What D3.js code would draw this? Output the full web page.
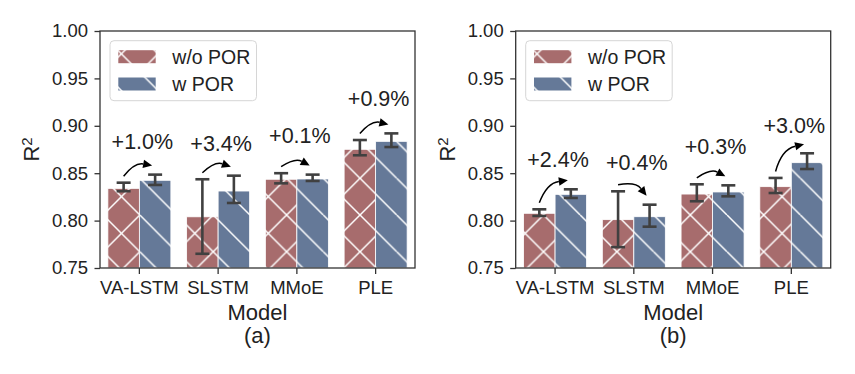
<!DOCTYPE html>
<html>
<head>
<meta charset="utf-8">
<script src="https://cdn.jsdelivr.net/npm/d3@7"></script>
<style>
  body { margin: 0; background: #fff; }
  text { font-family: "Liberation Sans", Arial, sans-serif; fill: #222; }
</style>
</head>
<body>
<svg id="chart" width="855" height="374"></svg>
<script>
// categories
const models = ["VA-LSTM", "SLSTM", "MMoE", "PLE"];
const yTicks = [0.75, 0.80, 0.85, 0.90, 0.95, 1.00];

// panel (a)
const aWoMean = [0.834, 0.804, 0.8436, 0.8752];
const aWoLow  = [0.831, 0.765, 0.8393, 0.8689];
const aWoHigh = [0.840, 0.8436, 0.850, 0.885];
const aWMean  = [0.8425, 0.8312, 0.8439, 0.8836];
const aWLow   = [0.8376, 0.8186, 0.8418, 0.8776];
const aWHigh  = [0.8485, 0.8474, 0.8485, 0.892];
const aGain   = ["+1.0%", "+3.4%", "+0.1%", "+0.9%"];
const aGainY  = [0.8752, 0.8737, 0.8815, 0.9209];

// panel (b)
const bWoMean = [0.8077, 0.801, 0.828, 0.8358];
const bWoLow  = [0.8049, 0.772, 0.8204, 0.8291];
const bWoHigh = [0.8119, 0.8309, 0.8383, 0.845];
const bWMean  = [0.8277, 0.8041, 0.8302, 0.8611];
const bWLow   = [0.8239, 0.7936, 0.8256, 0.8544];
const bWHigh  = [0.833, 0.8168, 0.8372, 0.871];
const bGain   = ["+2.4%", "+0.4%", "+0.3%", "+3.0%"];
const bGainY  = [0.8569, 0.8534, 0.8703, 0.8921];

const legendNames = ["w/o POR", "w POR"];
const red = "#a76c6d", blue = "#657998", ink = "#404040";

const svg = d3.select("#chart");
const defs = svg.append("defs");

// hatch patterns, tiled from one origin like matplotlib does
const T = 36.7;
function hatch(id, color, dirs) {
    const p = defs.append("pattern")
        .attr("id", id)
        .attr("patternUnits", "userSpaceOnUse")
        .attr("x", 360).attr("y", 178.3)
        .attr("width", T).attr("height", T);
    p.append("rect").attr("width", T).attr("height", T).attr("fill", color);
    dirs.forEach(d => {
        [-T, 0, T].forEach(o => {
            p.append("line")
                .attr("x1", o).attr("y1", d === "\\" ? 0 : T)
                .attr("x2", o + T).attr("y2", d === "\\" ? T : 0)
                .attr("stroke", "#fff").attr("stroke-width", 1.5);
        });
    });
}
hatch("hatchX", red, ["\\", "/"]);
hatch("hatchB", blue, ["\\"]);

const y = d3.scaleLinear().domain([0.75, 1.0]).range([268, 31]);

function drawPanel(x0, x1, woMean, woLow, woHigh, wMean, wLow, wHigh, gain, gainY, tag) {
    const x = d3.scaleBand().domain(models).range([x0, x1]).padding(0);
    const bw = x.bandwidth() * 0.4;
    const g = svg.append("g");

    // bars
    g.selectAll(".wo").data(models).join("rect")
        .attr("x", d => x(d) + x.bandwidth() / 2 - bw)
        .attr("y", (d, i) => y(woMean[i]))
        .attr("width", bw)
        .attr("height", (d, i) => y(0.75) - y(woMean[i]))
        .attr("fill", "url(#hatchX)")
        .attr("stroke", "#fff").attr("stroke-width", 0.8);
    g.selectAll(".w").data(models).join("rect")
        .attr("x", d => x(d) + x.bandwidth() / 2)
        .attr("y", (d, i) => y(wMean[i]))
        .attr("width", bw)
        .attr("height", (d, i) => y(0.75) - y(wMean[i]))
        .attr("fill", "url(#hatchB)")
        .attr("stroke", "#fff").attr("stroke-width", 0.8);

    // error bars
    function errBar(cx, lo, hi) {
        const e = g.append("g").attr("stroke", ink).attr("stroke-width", 2.6);
        e.append("line").attr("x1", cx).attr("x2", cx).attr("y1", y(lo)).attr("y2", y(hi));
        [lo, hi].forEach(v => e.append("line")
            .attr("x1", cx - 7).attr("x2", cx + 7).attr("y1", y(v)).attr("y2", y(v)));
    }
    models.forEach((m, i) => {
        const c = x(m) + x.bandwidth() / 2;
        errBar(c - bw / 2, woLow[i], woHigh[i]);
        errBar(c + bw / 2, wLow[i], wHigh[i]);
    });

    // curved arrows + gain labels
    models.forEach((m, i) => {
        const c = x(m) + x.bandwidth() / 2;
        const sx = c - bw / 2, sy = y(woHigh[i]) - 6.5;
        const ex = c + bw / 2 - 3, ey = y(wHigh[i]) - 9;
        const rad = -0.3;
        const cx = (sx + ex) / 2 - rad * (ey - sy);
        const cy = (sy + ey) / 2 + rad * (ex - sx);
        let ux = ex - cx, uy = ey - cy;
        const len = Math.hypot(ux, uy);
        ux /= len; uy /= len;
        const L = 9, W = 4.2;
        const bx = ex - L * ux, by = ey - L * uy;
        g.append("path")
            .attr("d", `M${sx},${sy} Q${cx},${cy} ${bx},${by}`)
            .attr("fill", "none").attr("stroke", "#000").attr("stroke-width", 1.5);
        g.append("path")
            .attr("d", `M${ex},${ey} L${bx - W * uy},${by + W * ux} L${bx + W * uy},${by - W * ux}Z`)
            .attr("fill", "#000");
        g.append("text")
            .attr("x", c + 3).attr("y", y(gainY[i]))
            .attr("text-anchor", "middle")
            .style("font-size", "21.5px")
            .text(gain[i]);
    });

    // frame
    g.append("rect")
        .attr("x", x0).attr("y", y(1.0))
        .attr("width", x1 - x0).attr("height", y(0.75) - y(1.0))
        .attr("fill", "none").attr("stroke", "#333").attr("stroke-width", 1.3);

    // axes
    const ya = g.append("g").attr("transform", `translate(${x0},0)`)
        .call(d3.axisLeft(y).tickValues(yTicks).tickFormat(d3.format(".2f")).tickSize(5.5).tickPadding(6.5));
    const xa = g.append("g").attr("transform", `translate(0,${y(0.75)})`)
        .call(d3.axisBottom(x).tickSize(6).tickPadding(7));
    [ya, xa].forEach(a => {
        a.select(".domain").remove();
        a.selectAll("line").attr("stroke", "#333").attr("stroke-width", 1.3);
        a.selectAll("text").style("font-size", "18.5px")
            .style("font-family", "'Liberation Sans', Arial, sans-serif").attr("fill", "#222");
    });

    // labels
    const mid = (x0 + x1) / 2;
    g.append("text").attr("x", mid).attr("y", 320).attr("text-anchor", "middle")
        .style("font-size", "22px").text("Model");
    g.append("text").attr("x", mid).attr("y", 343).attr("text-anchor", "middle")
        .style("font-size", "22px").text(tag);
    const yl = g.append("text")
        .attr("transform", `translate(${x0 - 61},${(y(0.75) + y(1.0)) / 2}) rotate(-90)`)
        .attr("text-anchor", "middle")
        .style("font-size", "22px");
    yl.append("tspan").text("R");
    yl.append("tspan").attr("dy", "-0.45em").style("font-size", "15px").text("2");

    // legend
    const lg = g.append("g").attr("transform", `translate(${x0 + 10},40.7)`);
    lg.append("rect").attr("width", 146.5).attr("height", 60).attr("rx", 4)
        .attr("fill", "#fff").attr("fill-opacity", 0.8)
        .attr("stroke", "#d6d6d6").attr("stroke-width", 1);
    ["url(#hatchX)", "url(#hatchB)"].forEach((f, k) => {
        lg.append("rect").attr("x", 8.3).attr("y", 9.5 + k * 27.3)
            .attr("width", 37.4).attr("height", 13).attr("fill", f);
        lg.append("text").attr("x", 62.3).attr("y", 23 + k * 27.3)
            .style("font-size", "19.5px").text(legendNames[k]);
    });
}

drawPanel(100, 415, aWoMean, aWoLow, aWoHigh, aWMean, aWLow, aWHigh, aGain, aGainY, "(a)");
drawPanel(515.7, 830.7, bWoMean, bWoLow, bWoHigh, bWMean, bWLow, bWHigh, bGain, bGainY, "(b)");
</script>
</body>
</html>
